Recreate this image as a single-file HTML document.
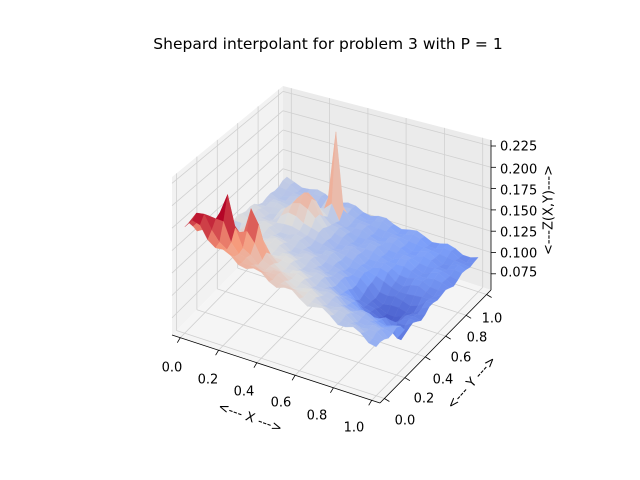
<!DOCTYPE html>
<html><head><meta charset="utf-8"><style>
body{margin:0;background:#fff;}
#w{position:relative;width:640px;height:480px;overflow:hidden;font-family:"DejaVu Sans","Liberation Sans",sans-serif;}
svg{position:absolute;left:0;top:0;}
.t{position:absolute;font-size:13px;color:#000;white-space:nowrap;transform:translate(-50%,-50%);}
.z{position:absolute;font-size:13px;color:#000;white-space:nowrap;transform:translateY(-50%);}
</style></head><body><div id="w">
<svg id="s" width="640" height="480" viewBox="0 0 640 480"></svg>
<div class="t" style="left:328px;top:44px;font-size:15.5px;">Shepard interpolant for problem 3 with P = 1</div>
<div class="t" style="left:172px;top:368px">0.0</div>
<div class="t" style="left:208px;top:380px">0.2</div>
<div class="t" style="left:244px;top:392px">0.4</div>
<div class="t" style="left:281px;top:403px">0.6</div>
<div class="t" style="left:317px;top:416px">0.8</div>
<div class="t" style="left:354px;top:428px">1.0</div>
<div class="t" style="left:405px;top:421px">0.0</div>
<div class="t" style="left:424px;top:399px">0.2</div>
<div class="t" style="left:443px;top:380px">0.4</div>
<div class="t" style="left:461px;top:358px">0.6</div>
<div class="t" style="left:477px;top:338px">0.8</div>
<div class="t" style="left:492px;top:319px">1.0</div>
<div class="z" style="left:500px;top:147px">0.225</div>
<div class="z" style="left:500px;top:170px">0.200</div>
<div class="z" style="left:500px;top:191px">0.175</div>
<div class="z" style="left:500px;top:212px">0.150</div>
<div class="z" style="left:500px;top:233px">0.125</div>
<div class="z" style="left:500px;top:254px">0.100</div>
<div class="z" style="left:500px;top:273px">0.075</div>
<div class="t" style="left:250px;top:418px;transform:translate(-50%,-50%) rotate(20deg);">&lt;--- X ---&gt;</div>
<div class="t" style="left:472px;top:383px;transform:translate(-50%,-50%) rotate(-48deg);">&lt;--- Y ---&gt;</div>
<div class="t" style="left:549px;top:210px;transform:translate(-50%,-50%) rotate(-90deg);">&lt;---Z(X,Y)---&gt;</div>
</div>
<script>
const S=document.getElementById('s');let h='';
const FL=[172,335],F=[380,403],B=[283,222];
function fl(x,y){return [FL[0]+x*(F[0]-FL[0])+y*(B[0]-FL[0]),FL[1]+x*(F[1]-FL[1])+y*(B[1]-FL[1])];}
function P(x,y,z){const f=fl(x,y);const H=158+14*x-22*y;return [f[0],f[1]-H*(z-0.056)/0.176];}
function pt(p){return p[0].toFixed(1)+','+p[1].toFixed(1);}
h+=`<polygon points="${pt(P(0,0,0.056))} ${pt(P(0,1,0.056))} ${pt(P(0,1,0.232))} ${pt(P(0,0,0.232))}" fill="#f2f2f2"/>`;
h+=`<polygon points="${pt(P(0,1,0.056))} ${pt(P(1,1,0.056))} ${pt(P(1,1,0.232))} ${pt(P(0,1,0.232))}" fill="#ebebeb"/>`;
h+=`<polygon points="${pt(P(0,0,0.056))} ${pt(P(1,0,0.056))} ${pt(P(1,1,0.056))} ${pt(P(0,1,0.056))}" fill="#f5f5f5"/>`;
const g='stroke="#d0d0d0" stroke-width="0.8"';
const L=(a,b,st)=>h+=`<line x1="${a[0].toFixed(1)}" y1="${a[1].toFixed(1)}" x2="${b[0].toFixed(1)}" y2="${b[1].toFixed(1)}" ${st}/>`;
const T=t=>0.04+0.92*t;
for(let i=0;i<=5;i++){const t=T(i/5);
 L(P(t,0,0.056),P(t,1,0.056),g);L(P(t,1,0.056),P(t,1,0.232),g);
 L(P(0,t,0.056),P(1,t,0.056),g);L(P(0,t,0.056),P(0,t,0.232),g);}
for(let k=0;k<7;k++){const z=0.075+0.025*k;L(P(0,0,z),P(0,1,z),g);L(P(0,1,z),P(1,1,z),g);}
const ax='stroke="#000" stroke-width="0.8"';
L(P(0,0,0.056),P(1,0,0.056),ax);L(P(1,0,0.056),P(1,1,0.056),ax);L(P(1,1,0.056),P(1,1,0.232),ax);
for(let i=0;i<=5;i++){const t=T(i/5);let a=P(t,0,0.056);L(a,[a[0]-3,a[1]+5],ax);a=P(1,t,0.056);L(a,[a[0]+5,a[1]+3],ax);}
for(let k=0;k<7;k++){const a=P(1,1,0.075+0.025*k);L(a,[a[0]+5,a[1]],ax);}
function ex(x,y,cx,cy,s){return Math.exp(-((x-cx)**2+(y-cy)**2)/s);}
function Z(x,y){let z=0.094+0.026*(1-x)+0.05*(1-y)**2*(1-0.7*x)
 -0.028*ex(x,y,0.8,0.45,0.03)
 +0.06*ex(x,y,0.16,0.12,0.002)+0.055*ex(x,y,0.25,0.2,0.002)+0.03*ex(x,y,0.07,0.05,0.004)
 +0.1*ex(x,y,0.32,0.88,0.0008)+0.035*ex(x,y,0.25,0.72,0.008)
 -0.03*ex(x,y,0.02,0.42,0.0015)-0.02*ex(x,y,0.95,0.3,0.0015)
 +0.004*Math.sin(x*37+y*11)*Math.cos(y*29);return z;}
function cw(t){t=Math.max(0,Math.min(1,t));
 const st=[[0,59,76,192],[0.25,124,159,249],[0.5,221,221,221],[0.75,246,154,123],[1,180,4,38]];
 for(let i=0;i<4;i++){if(t<=st[i+1][0]){const u=(t-st[i][0])/(st[i+1][0]-st[i][0]);
  return `rgb(${[1,2,3].map(j=>Math.round(st[i][j]+u*(st[i+1][j]-st[i][j]))).join(',')})`;}}}
const N=25,q=[];
for(let i=0;i<N;i++)for(let j=0;j<N;j++){const x0=i/N,x1=(i+1)/N,y0=j/N,y1=(j+1)/N;
 const zs=[Z(x0,y0),Z(x1,y0),Z(x1,y1),Z(x0,y1)];const zm=(zs[0]+zs[1]+zs[2]+zs[3])/4;
 q.push({d:(x0+x1)/2-(y0+y1)/2,p:[P(T(x0),T(y0),zs[0]),P(T(x1),T(y0),zs[1]),P(T(x1),T(y1),zs[2]),P(T(x0),T(y1),zs[3])],c:cw((zm-0.07)/0.12)});}
q.sort((a,b)=>a.d-b.d);
for(const o of q)h+=`<polygon points="${o.p.map(pt).join(' ')}" fill="${o.c}" stroke="${o.c}" stroke-width="0.3"/>`;
S.innerHTML=h;
</script>
</body></html>
